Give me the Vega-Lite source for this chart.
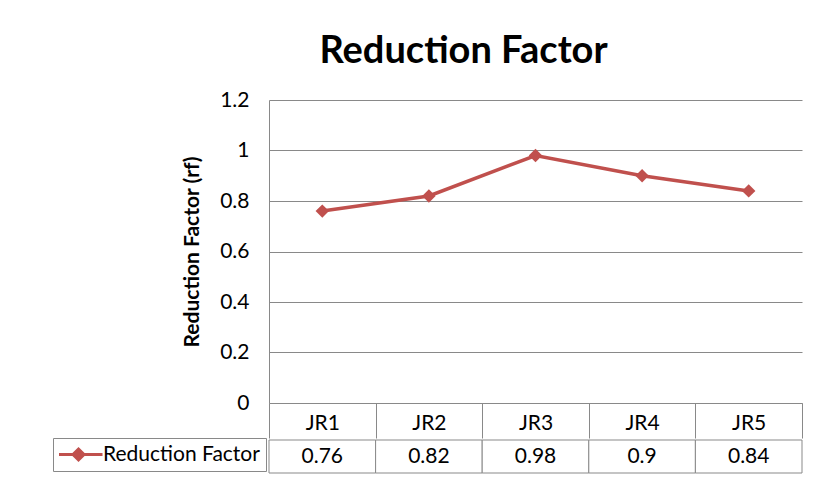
{
  "$schema": "https://vega.github.io/schema/vega-lite/v6.json",
  "background": "white",
  "padding": {"left": 52, "top": 33, "right": 17, "bottom": 10},
  "config": {"font": "Lato", "view": {"stroke": null}, "concat": {"spacing": 0}},
  "datasets": {
    "rf": [
      {"jr": "JR1", "rf": 0.76, "series": "Reduction Factor"},
      {"jr": "JR2", "rf": 0.82, "series": "Reduction Factor"},
      {"jr": "JR3", "rf": 0.98, "series": "Reduction Factor"},
      {"jr": "JR4", "rf": 0.9, "series": "Reduction Factor"},
      {"jr": "JR5", "rf": 0.84, "series": "Reduction Factor"}
    ]
  },
  "vconcat": [
    {
      "title": {"text": "Reduction Factor", "fontSize": 38, "fontWeight": "bold", "font": "Lato", "color": "black", "dx": -72, "offset": 18},
      "width": 533,
      "height": 303,
      "data": {"name": "rf"},
      "mark": {"type": "line", "strokeWidth": 3.5, "point": {"shape": "diamond", "size": 180, "filled": true, "opacity": 1}},
      "encoding": {
        "x": {
          "field": "jr", "type": "nominal",
          "scale": {"type": "band", "paddingInner": 0, "paddingOuter": 0},
          "axis": {"title": null, "labelAngle": 0, "domain": true, "domainColor": "#898989", "ticks": true, "tickBand": "extent", "tickSize": 35, "tickColor": "#898989", "labelPadding": -26, "labelFontSize": 21, "labelColor": "black", "labelFont": "Lato"}
        },
        "y": {
          "field": "rf", "type": "quantitative",
          "scale": {"domain": [0, 1.2]},
          "axis": {"values": [0, 0.2, 0.4, 0.6, 0.8, 1, 1.2], "format": "~g", "title": "Reduction Factor (rf)", "titleFont": "Lato", "titleFontSize": 21, "titleFontWeight": "bold", "titleColor": "black", "titlePadding": 17, "labelFont": "Lato", "labelFontSize": 21, "labelColor": "black", "labelPadding": 20, "ticks": false, "domain": true, "domainColor": "#898989", "gridColor": "#898989", "gridOpacity": 1}
        },
        "color": {
          "field": "series", "type": "nominal",
          "scale": {"range": ["#C0504D"]},
          "legend": {
            "orient": "none", "legendX": -216, "legendY": 338, "title": null,
            "strokeColor": "#898989", "fillColor": "white", "padding": 6,
            "symbolType": "M-2.4,0H2.4M0,-0.55L0.55,0L0,0.55L-0.55,0Z", "symbolSize": 400, "symbolStrokeWidth": 3,
            "symbolFillColor": "#C0504D", "symbolOpacity": 1,
            "symbolOffset": 8, "labelOffset": 13, "labelFontSize": 21, "labelFont": "Lato", "labelColor": "black", "clipHeight": 21
          }
        }
      }
    },
    {
      "width": 533,
      "height": 33,
      "data": {"name": "rf"},
      "layer": [
        {
          "mark": {"type": "rect", "fill": "white", "stroke": "#898989", "strokeWidth": 1},
          "encoding": {
            "x": {"field": "jr", "type": "nominal", "scale": {"type": "band", "paddingInner": 0, "paddingOuter": 0}, "axis": null}
          }
        },
        {
          "mark": {"type": "text", "fontSize": 21, "font": "Lato", "color": "black"},
          "encoding": {
            "x": {"field": "jr", "type": "nominal", "axis": null},
            "text": {"field": "rf", "type": "quantitative", "format": "~g"}
          }
        }
      ]
    }
  ]
}
